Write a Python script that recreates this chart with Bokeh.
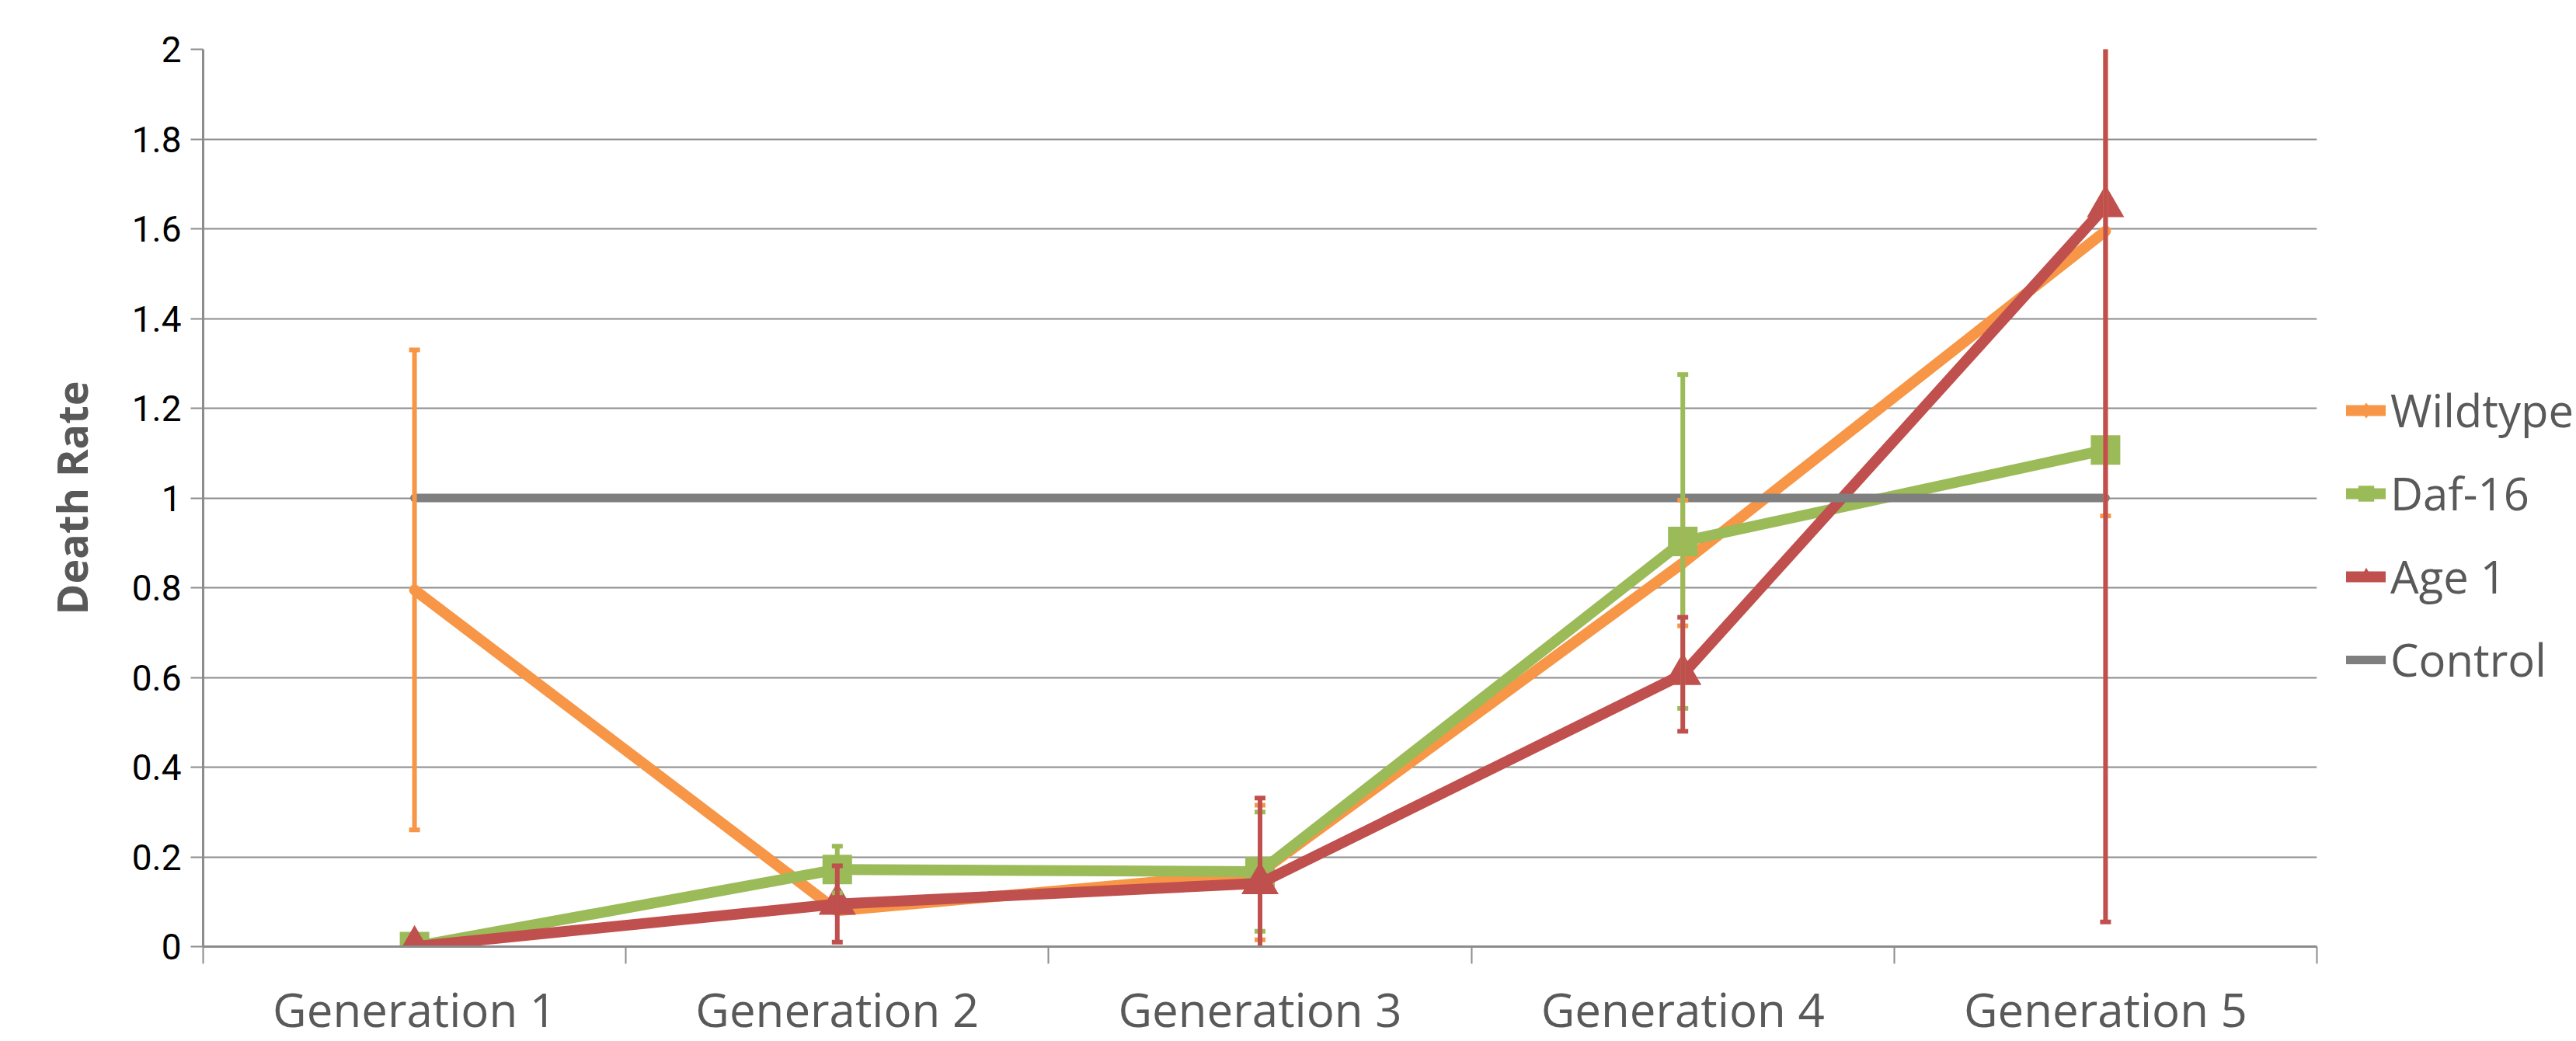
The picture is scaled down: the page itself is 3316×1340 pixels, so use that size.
from bokeh.plotting import figure
from bokeh.models import FixedTicker, Range1d, Legend, LegendItem, ColumnDataSource
from bokeh.embed import file_html
from bokeh.resources import INLINE

# ---- data ----
categories = ["Generation 1", "Generation 2", "Generation 3", "Generation 4", "Generation 5"]
wildtype = [0.795, 0.08, 0.165, 0.855, 1.595]
wildtype_err = [0.535, 0.0, 0.15, 0.14, 0.635]
daf16 = [0.0, 0.172, 0.167, 0.903, 1.107]
daf16_err = [0.0, 0.052, 0.133, 0.372, 0.0]
age1 = [0.0, 0.095, 0.141, 0.607, 1.65]
age1_err = [0.0, 0.085, 0.19, 0.127, 1.595]
control = [1, 1, 1, 1, 1]
y_ticks = [0, 0.2, 0.4, 0.6, 0.8, 1, 1.2, 1.4, 1.6, 1.8, 2]
y_tick_labels = ["0", "0.2", "0.4", "0.6", "0.8", "1", "1.2", "1.4", "1.6", "1.8", "2"]

ORANGE = "#F79646"
GREEN = "#9BBB59"
RED = "#C0504D"
GRAY = "#7F7F7F"
TEXT = "#595959"
GRID = "#8C8C8C"

xs = [i + 0.5 for i in range(len(categories))]
bounds = list(range(len(categories) + 1))

p = figure(frame_width=2721, frame_height=1155, output_backend="svg", toolbar_location=None,
           x_range=Range1d(0, len(categories)), y_range=Range1d(0, 2),
           min_border_left=261, min_border_right=0, min_border_top=63, min_border_bottom=122)
p.outline_line_color = None
p.background_fill_color = "white"
p.border_fill_color = "white"

# axes
xa = p.xaxis[0]
xa.ticker = FixedTicker(ticks=xs, minor_ticks=bounds)
xa.major_label_overrides = {x: c for x, c in zip(xs, categories)}
xa.major_tick_out = 0
xa.major_tick_in = 0
xa.minor_tick_out = 22
xa.minor_tick_in = 0
xa.minor_tick_line_color = GRID
xa.minor_tick_line_width = 2
xa.axis_line_color = GRID
xa.axis_line_width = 3
xa.major_label_text_font = "Open Sans"
xa.major_label_text_font_size = "60px"
xa.major_label_text_color = TEXT
xa.major_label_standoff = 17

ya = p.yaxis[0]
ya.ticker = FixedTicker(ticks=y_ticks)
ya.major_label_overrides = {t: l for t, l in zip(y_ticks, y_tick_labels)}
ya.major_tick_out = 16
ya.major_tick_in = 0
ya.major_tick_line_color = GRID
ya.major_tick_line_width = 2
ya.minor_tick_line_color = None
ya.axis_line_color = GRID
ya.axis_line_width = 3
ya.major_label_text_font = "Roboto"
ya.major_label_text_font_size = "46px"
ya.major_label_text_color = "black"
ya.major_label_standoff = 12
ya.axis_label = "Death Rate"
ya.axis_label_text_font = "Open Sans"
ya.axis_label_text_font_style = "bold"
ya.axis_label_text_font_size = "54px"
ya.axis_label_text_color = TEXT
ya.axis_label_standoff = 38

p.xgrid.grid_line_color = None
p.ygrid.ticker = FixedTicker(ticks=y_ticks)
p.ygrid.grid_line_color = GRID
p.ygrid.grid_line_width = 2

src = ColumnDataSource(dict(x=xs, wt=wildtype, daf=daf16, age=age1, ctl=control))

# series lines and markers
wt_line = p.line("x", "wt", source=src, line_color=ORANGE, line_width=14, line_cap="round", line_join="round")
wt_mark = p.scatter("x", "wt", source=src, marker="diamond", size=20, fill_color=ORANGE, line_color=None)
daf_line = p.line("x", "daf", source=src, line_color=GREEN, line_width=14, line_cap="round", line_join="round")
daf_mark = p.scatter("x", "daf", source=src, marker="square", size=38, fill_color=GREEN, line_color=None)
age_line = p.line("x", "age", source=src, line_color=RED, line_width=14, line_cap="round", line_join="round")
age_mark = p.scatter("x", "age", source=src, marker="triangle", size=48, fill_color=RED, line_color=None)
ctl_line = p.line("x", "ctl", source=src, line_color=GRAY, line_width=11, line_cap="round", line_join="round")

# error bars
def error_bars(vals, errs, color):
    pts = [(x, v, e) for x, v, e in zip(xs, vals, errs) if e > 0]
    ex = [a for a, _, _ in pts]
    lo = [v - e for _, v, e in pts]
    hi = [v + e for _, v, e in pts]
    p.segment(ex, lo, ex, hi, line_color=color, line_width=6)
    p.scatter(ex + ex, lo + hi, marker="dash", size=14, line_color=color, line_width=6)

error_bars(wildtype, wildtype_err, ORANGE)
error_bars(daf16, daf16_err, GREEN)
error_bars(age1, age1_err, RED)

legend = Legend(items=[
    LegendItem(label="Wildtype", renderers=[wt_line, wt_mark]),
    LegendItem(label="Daf-16", renderers=[daf_line, daf_mark]),
    LegendItem(label="Age 1", renderers=[age_line, age_mark]),
    LegendItem(label="Control", renderers=[ctl_line]),
], location=(38, 330), orientation="vertical")
legend.label_text_font = "Open Sans"
legend.label_text_font_size = "58px"
legend.label_text_color = TEXT
legend.glyph_width = 51
legend.glyph_height = 60
legend.label_height = 60
legend.label_standoff = 6
legend.spacing = 28
legend.padding = 0
legend.margin = 0
legend.border_line_color = None
legend.background_fill_alpha = 0
p.add_layout(legend, "right")

open("out.html", "w").write(file_html(p, INLINE))
